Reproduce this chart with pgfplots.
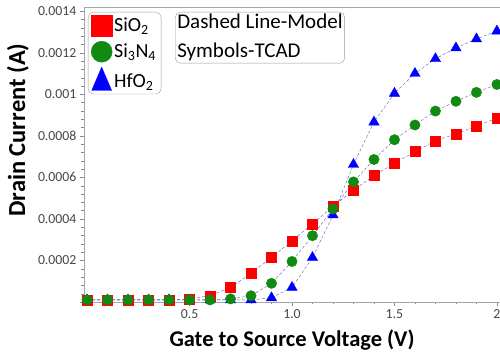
\documentclass[border=0pt]{standalone}
\usepackage{pgfplots}
\pgfplotsset{compat=1.18}
\usepackage{fontspec}
\setmainfont{Carlito}
\definecolor{linec}{HTML}{5A5AC0}
\definecolor{mgreen}{HTML}{118A11}
\pgfplotstableread{
x sio si hf
0.0 0.00001 0.00001 0.00001
0.1 0.00001 0.00001 0.00001
0.2 0.00001 0.00001 0.00001
0.3 0.00001 0.00001 0.00001
0.4 0.00001 0.00001 0.00001
0.5 0.000015 0.00001 0.00001
0.6 0.00003 0.00001 0.00001
0.7 0.00007 0.000015 0.00001
0.8 0.000138 0.00003 0.00001
0.9 0.000214 0.00009 0.00002
1.0 0.000295 0.000195 0.00007
1.1 0.000376 0.000319 0.000214
1.2 0.00046 0.000448 0.000419
1.3 0.000538 0.000578 0.000662
1.4 0.000609 0.000686 0.000866
1.5 0.000667 0.000781 0.001004
1.6 0.000724 0.000852 0.0011
1.7 0.000776 0.000919 0.001171
1.8 0.000809 0.000966 0.001223
1.9 0.000847 0.001009 0.001266
2.0 0.000885 0.001047 0.001304
}\data
\begin{document}
\begin{tikzpicture}[trim axis right]
\begin{axis}[
 scale only axis, width=416pt, height=295pt,
 xmin=-0.015, xmax=2.015, ymin=0, ymax=0.00142,
 scaled y ticks=false, scaled x ticks=false,
 axis line style={draw=black!35},
 major tick style={black!45, major tick length=4pt},
 minor tick style={black!45, minor tick length=2.5pt},
 tick align=outside, xtick pos=bottom, ytick pos=left,
 xtick={0,0.5,1,1.5,2}, xticklabels={,0.5,1.0,1.5,2},
 ytick={0,0.0002,0.0004,0.0006,0.0008,0.001,0.0012,0.0014},
 yticklabels={,0.0002,0.0004,0.0006,0.0008,0.001,0.0012,0.0014},
 minor x tick num=4, minor y tick num=4,
 ticklabel style={font=\fontsize{13.8}{16}\selectfont, text=black!72},
 xlabel={Gate to Source Voltage (V)}, ylabel={Drain Current (A)},
 every axis x label/.style={at={(rel axis cs:0.5,-0.1288)}, anchor=center, inner sep=0pt, font=\fontsize{22.5}{26}\selectfont\bfseries},
 every axis y label/.style={at={(rel axis cs:-0.1587,0.583)}, rotate=90, anchor=center, inner sep=0pt, font=\fontsize{24.5}{28}\selectfont\bfseries},
 clip=false,
 legend cell align=left,
 legend style={at={(rel axis cs:0.0096,0.983)}, anchor=north west, draw=black!40, rounded corners=5pt, font=\fontsize{20}{24}\selectfont, row sep=5pt, inner sep=3pt},
]
\addlegendimage{only marks, mark=square*, mark options={fill=red, draw=red}, mark size=10.5pt}
\addlegendentry{SiO\textsubscript{2}}
\addlegendimage{only marks, mark=*, mark options={fill=mgreen, draw=mgreen}, mark size=10.5pt}
\addlegendentry{Si\textsubscript{3}N\textsubscript{4}}
\addlegendimage{only marks, mark=triangle*, mark options={fill=blue, draw=blue, yscale=1.35, yshift=-1pt}, mark size=11.5pt}
\addlegendentry{HfO\textsubscript{2}}
\addplot[forget plot, linec, densely dashed, thin, mark=triangle*, mark size=6pt, mark options={solid, fill=blue, draw=blue}] table[x=x, y=hf] {\data};
\addplot[forget plot, linec, densely dashed, thin, mark=square*, mark size=5pt, mark options={solid, fill=red, draw=red}] table[x=x, y=sio] {\data};
\addplot[forget plot, linec, densely dashed, thin, mark=*, mark size=5.2pt, mark options={solid, fill=mgreen, draw=mgreen}] table[x=x, y=si] {\data};
\node[draw=black!40, rounded corners=5pt, anchor=north west, align=left, font=\fontsize{21}{29}\selectfont, inner sep=2pt] at (rel axis cs:0.219,0.983) {Dashed Line-Model\\Symbols-TCAD};
\path (rel axis cs:-0.2019,-0.1729) -- (rel axis cs:1,1.0237);
\end{axis}
\end{tikzpicture}
\end{document}
